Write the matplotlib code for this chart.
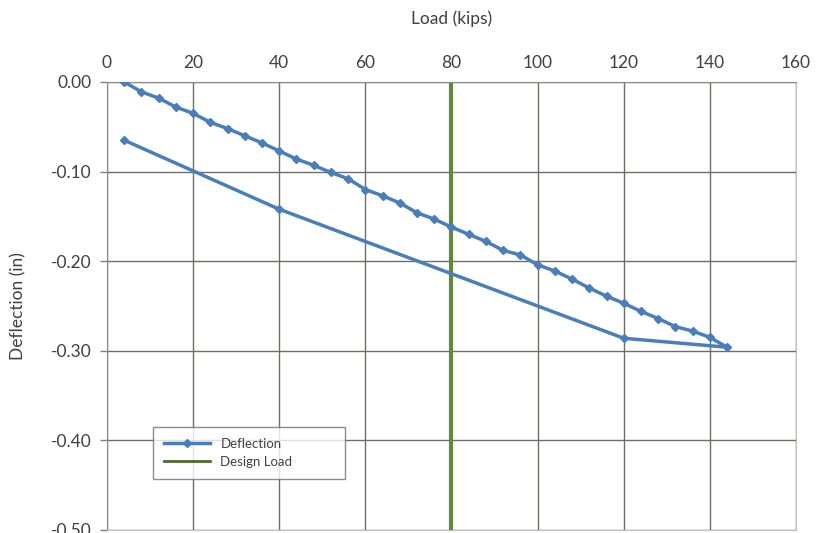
import numpy as np
import matplotlib.pyplot as plt

plt.rcParams['font.family'] = ['Lato', 'DejaVu Sans']

# loading branch, then unloading back
load = [4, 8, 12, 16, 20, 24, 28, 32, 36, 40, 44, 48, 52, 56, 60, 64, 68, 72, 76, 80,
        84, 88, 92, 96, 100, 104, 108, 112, 116, 120, 124, 128, 132, 136, 140, 144,
        120, 40, 4]
deflection = [0.000, -0.011, -0.018, -0.028, -0.035, -0.045, -0.052, -0.060, -0.068, -0.077,
              -0.086, -0.093, -0.101, -0.108, -0.120, -0.127, -0.135, -0.146, -0.153, -0.162,
              -0.170, -0.178, -0.188, -0.193, -0.204, -0.211, -0.220, -0.230, -0.239, -0.247,
              -0.256, -0.264, -0.273, -0.278, -0.285, -0.296,
              -0.286, -0.142, -0.065]
design_load_x = [80, 80]
design_load_y = [0.0, -0.5]

xticks = [0, 20, 40, 60, 80, 100, 120, 140, 160]
yticks = [0.0, -0.1, -0.2, -0.3, -0.4, -0.5]

fig = plt.figure(figsize=(8.2, 5.33), dpi=100)
ax = fig.add_axes([107/820, 3/533, 689/820, 448/533])

ax.plot(load, deflection, color='#4a7ebb', lw=2.5, marker='D', ms=4.5, label='Deflection', zorder=3)
ax.plot(design_load_x, design_load_y, color='#5f8a3e', lw=3, label='Design Load', zorder=2)

ax.set_xlim(0, 160)
ax.set_ylim(-0.5, 0)
ax.xaxis.tick_top()
ax.xaxis.set_label_position('top')
ax.set_xticks(xticks)
ax.set_yticks(yticks)
ax.set_yticklabels(['%.2f' % v if v == 0 else '-%.2f' % abs(v) for v in yticks])
ax.tick_params(axis='x', length=0, pad=8, labelsize=12.5, labelcolor='#404040')
ax.tick_params(axis='y', length=5, width=1, color='#808080', pad=6, labelsize=12.5, labelcolor='#404040')
ax.set_xlabel('Load (kips)', fontsize=12.5, color='#404040', labelpad=22)
ax.set_ylabel('Deflection (in)', fontsize=12.5, color='#404040', labelpad=18)

ax.grid(True, color='#6e6e66', lw=1)
ax.set_axisbelow(True)
for s in ['left', 'top']:
    ax.spines[s].set_color('#8a8a8a')
ax.spines['right'].set_color('#c0c0c0')
ax.spines['bottom'].set_color('#c0c0c0')

leg = ax.legend(loc='upper left', bbox_to_anchor=(0.067, 0.23, 0.279, 0.0), fontsize=9.5,
                frameon=True, fancybox=False, edgecolor='#707070', borderpad=0.8,
                labelspacing=0.5, handlelength=3.5, handletextpad=0.8, mode='expand',
                borderaxespad=0)
leg.get_frame().set_linewidth(1)
for t in leg.get_texts():
    t.set_color('#404040')
leg.get_lines()[1].set_color('#4f6b2e')
leg.get_lines()[1].set_linewidth(2)

plt.savefig('out.png', dpi=100)
